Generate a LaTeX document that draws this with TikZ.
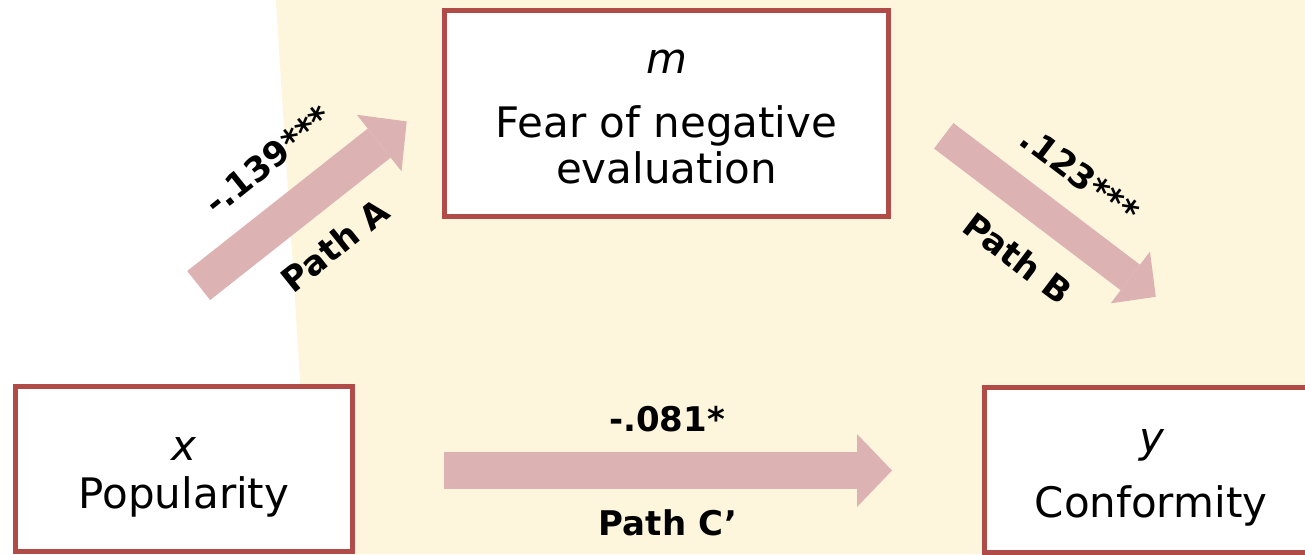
\documentclass[tikz,border=0pt]{standalone}
\usepackage{fontspec}
\setmainfont{DejaVu Sans}
\usetikzlibrary{arrows.meta}
\definecolor{bgyellow}{HTML}{FDF6DD}
\definecolor{boxred}{HTML}{B04B47}
\definecolor{pathpink}{HTML}{DDB2B2}
\begin{document}
\begin{tikzpicture}[x=1pt,y=-1pt,
  varbox/.style={rectangle,draw=boxred,line width=5pt,fill=white,inner sep=0pt},
  varname/.style={font=\fontsize{42}{46}\selectfont\itshape,anchor=base},
  vartext/.style={font=\fontsize{42}{46}\selectfont,anchor=base,align=center},
  coef/.style={font=\fontsize{34}{40}\selectfont\bfseries},
  fatpath/.style n args={3}{draw=pathpink,line width=#1,-{Triangle[width=#2,length=#3,line width=0pt]}}]
\clip (0,0) rectangle (1305,554);
\fill[white] (0,0) rectangle (1305,554);
% shaded background
\fill[bgyellow] (276,0) .. controls (285,150) and (296,300) .. (310,554) -- (1305,554) -- (1305,0) -- cycle;

% variables
\node[varbox,minimum width=444pt,minimum height=206pt] (mBox) at (666.5,113.5) {};
\node[varbox,minimum width=337pt,minimum height=164.5pt] (xBox) at (184,468.75) {};
\node[varbox,minimum width=333pt,minimum height=164.5pt] (yBox) at (1151,469.75) {};
\node[varname] (mName) at (667,73) {m};
\node[vartext] (mText) at (666.5,183) {Fear of negative\\evaluation};
\node[varname] (xName) at (184,460) {x};
\node[vartext] (xText) at (184,508) {Popularity};
\node[varname] (yName) at (1152,452) {y};
\node[vartext] (yText) at (1151,517) {Conformity};

% paths
\coordinate (aTail) at (198.7,285.5);
\coordinate (aTip) at (406.7,121.4);
\coordinate (bTail) at (943.7,135.8);
\coordinate (bTip) at (1155.8,296.8);
\coordinate (cTail) at (444,470.5);
\coordinate (cTip) at (892,470.5);
\draw[fatpath={37pt}{72pt}{35pt}] (aTail) -- (aTip);
\draw[fatpath={32pt}{65pt}{32pt}] (bTail) -- (bTip);
\draw[fatpath={37pt}{73pt}{35pt}] (cTail) -- (cTip);
\node[coef,rotate=38.7] (aCoef) at (268,160) {-.139***};
\node[coef,rotate=38.7] (aName) at (335,245) {Path A};
\node[coef,rotate=-37.2] (bCoef) at (1080,175) {.123***};
\node[coef,rotate=-37.2] (bName) at (1018,258) {Path B};
\node[coef,anchor=base] (cCoef) at (667,431) {-.081*};
\node[coef,anchor=base] (cName) at (668,535) {Path C’};
\end{tikzpicture}
\end{document}
